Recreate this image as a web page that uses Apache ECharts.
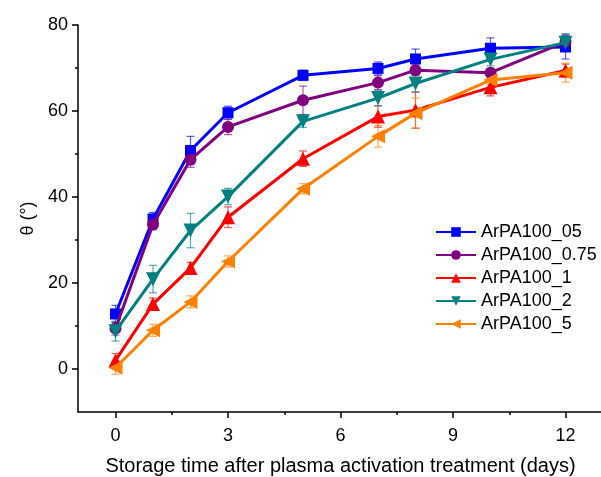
<!DOCTYPE html>
<html>
<head>
<meta charset="utf-8">
<script src="https://cdn.jsdelivr.net/npm/echarts@6/dist/echarts.min.js"></script>
<style>
  html, body { margin: 0; padding: 0; background: #fff; }
  #chart { width: 601px; height: 477px; }
</style>
</head>
<body>
<div id="chart"></div>
<script>
// storage days
var days = [0, 1, 2, 3, 5, 7, 8, 10, 12];

// contact angle values (deg) and their error bars
var pa05 = [12.8, 34.9, 50.8, 59.6, 68.3, 69.9, 72.1, 74.6, 74.9];
var pa05Err = [2.0, 1.5, 3.3, 1.5, 1.2, 1.5, 2.3, 2.4, 2.8];
var pa075 = [9.4, 33.6, 48.7, 56.3, 62.5, 66.6, 69.5, 68.9, 76.1];
var pa075Err = [1.5, 1.2, 1.8, 1.8, 3.3, 1.6, 1.2, 1.0, 1.5];
var pa1 = [2.0, 15.1, 23.5, 35.3, 48.9, 58.7, 60.2, 65.5, 69.4];
var pa1Err = [1.6, 1.4, 1.3, 2.4, 1.8, 2.5, 4.2, 2.0, 1.5];
var pa2 = [8.8, 20.9, 32.2, 40.1, 57.6, 63.0, 66.4, 72.0, 75.9];
var pa2Err = [2.3, 3.2, 4.0, 1.9, 1.4, 1.8, 2.0, 1.5, 2.1];
var pa5 = [0.3, 9.0, 15.6, 25.0, 41.9, 54.1, 59.5, 67.2, 68.9];
var pa5Err = [1.5, 1.4, 1.4, 1.3, 1.2, 2.5, 3.5, 1.1, 2.2];

var xTicks = [0, 3, 6, 9, 12];
var xMinor = [1.5, 4.5, 7.5, 10.5];
var yTicks = [0, 20, 40, 60, 80];
var yMinor = [10, 30, 50, 70];

var names = ['ArPA100_05', 'ArPA100_0.75', 'ArPA100_1', 'ArPA100_2', 'ArPA100_5'];
var values = [pa05, pa075, pa1, pa2, pa5];
var errs = [pa05Err, pa075Err, pa1Err, pa2Err, pa5Err];
var colors = ['#0000ff', '#800080', '#ff0000', '#008080', '#ff8000'];
var symbols = ['rect', 'circle', 'triangle', 'triangle', 'triangle'];
var rotates = [0, 0, 0, 180, 90];
var sizes = [11, 12, 14, 14, 14];

var font = 'Liberation Sans, Arial, sans-serif';
var chart = echarts.init(document.getElementById('chart'));

function errorBars(i) {
  var data = days.map(function (d, k) {
    return [d, values[i][k] - errs[i][k], values[i][k] + errs[i][k]];
  });
  return {
    type: 'custom',
    name: names[i] + '_err',
    data: data,
    z: 1,
    silent: true,
    renderItem: function (params, api) {
      var lo = api.coord([api.value(0), api.value(1)]);
      var hi = api.coord([api.value(0), api.value(2)]);
      var w = 4;
      var st = { stroke: colors[i], lineWidth: 1.2, opacity: 0.65 };
      return {
        type: 'group',
        children: [
          { type: 'line', shape: { x1: lo[0], y1: lo[1], x2: hi[0], y2: hi[1] }, style: st },
          { type: 'line', shape: { x1: lo[0] - w, y1: lo[1], x2: lo[0] + w, y2: lo[1] }, style: st },
          { type: 'line', shape: { x1: hi[0] - w, y1: hi[1], x2: hi[0] + w, y2: hi[1] }, style: st }
        ]
      };
    }
  };
}

var series = [];
names.forEach(function (n, i) { series.push(errorBars(i)); });
names.forEach(function (n, i) {
  series.push({
    type: 'line',
    name: n,
    data: days.map(function (d, k) { return [d, values[i][k]]; }),
    symbol: symbols[i],
    symbolSize: sizes[i],
    symbolRotate: rotates[i],
    showAllSymbol: true,
    z: 2 + i,
    lineStyle: { color: colors[i], width: 3 },
    itemStyle: { color: colors[i] }
  });
});

var axisLine = { show: true, onZero: false, lineStyle: { color: '#000', width: 1.5 } };
var noLine = { show: false, onZero: false };

chart.setOption({
  animation: false,
  backgroundColor: '#fff',
  grid: { left: 78, top: 25, width: 525, height: 387, outerBoundsMode: 'none', containLabel: false },
  legend: {
    data: names,
    orient: 'vertical',
    left: 430,
    top: 218,
    itemWidth: 40,
    itemHeight: 12,
    itemGap: 5,
    textStyle: { fontFamily: font, fontSize: 18, color: '#000' }
  },
  xAxis: [{
    type: 'value', min: -1, max: 13,
    axisLine: axisLine,
    axisTick: { show: true, length: 6, customValues: xTicks, lineStyle: { color: '#000', width: 1.5 } },
    axisLabel: { customValues: xTicks, margin: 15, fontFamily: font, fontSize: 18, color: '#000' },
    splitLine: { show: false },
    name: 'Storage time after plasma activation treatment (days)',
    nameLocation: 'middle',
    nameGap: 44,
    nameTextStyle: { fontFamily: font, fontSize: 20, color: '#000' }
  }, {
    type: 'value', min: -1, max: 13, position: 'bottom',
    axisLine: noLine,
    axisTick: { show: true, length: 3, customValues: xMinor, lineStyle: { color: '#000', width: 1.5 } },
    axisLabel: { show: false },
    splitLine: { show: false }
  }],
  yAxis: [{
    type: 'value', min: -10, max: 80,
    axisLine: axisLine,
    axisTick: { show: true, length: 6, customValues: yTicks, lineStyle: { color: '#000', width: 1.5 } },
    axisLabel: { customValues: yTicks, margin: 10, fontFamily: font, fontSize: 18, color: '#000' },
    splitLine: { show: false },
    name: 'θ (°)',
    nameLocation: 'middle',
    nameRotate: 90,
    nameGap: 40,
    nameTextStyle: { fontFamily: font, fontSize: 18, color: '#000' }
  }, {
    type: 'value', min: -10, max: 80, position: 'left',
    axisLine: noLine,
    axisTick: { show: true, length: 3, customValues: yMinor, lineStyle: { color: '#000', width: 1.5 } },
    axisLabel: { show: false },
    splitLine: { show: false }
  }],
  series: series
});
</script>
</body>
</html>
